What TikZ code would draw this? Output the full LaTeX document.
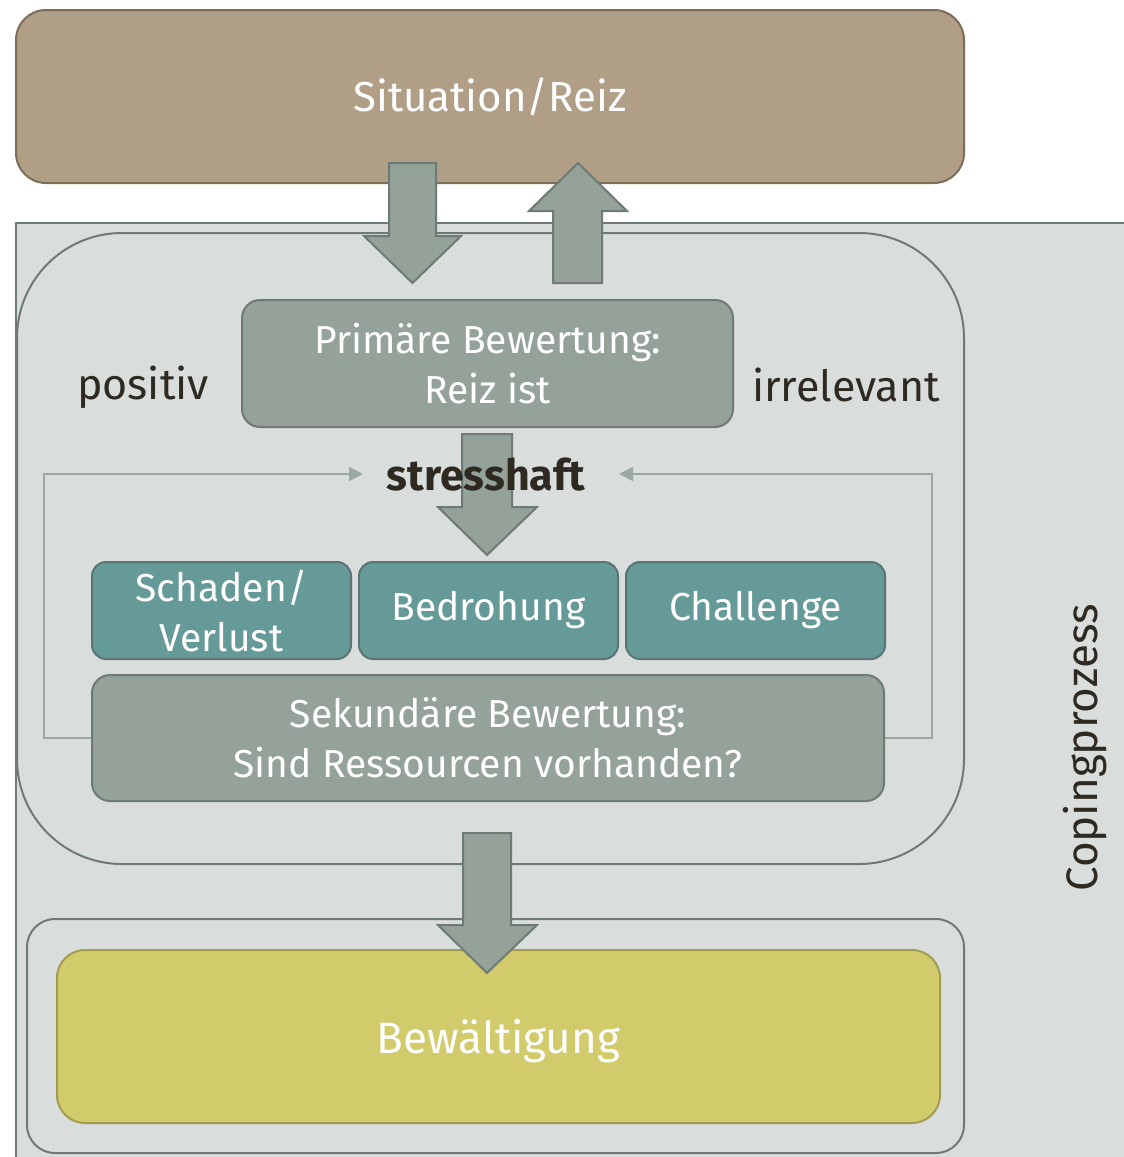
\documentclass[tikz,border=0pt]{standalone}
\usepackage{fontspec}
\setmainfont{Fira Sans}
\usetikzlibrary{arrows.meta}
\definecolor{tanfill}{HTML}{B09E87}
\definecolor{tanline}{HTML}{7E6D58}
\definecolor{bgfill}{HTML}{D9DDDB}
\definecolor{bgline}{HTML}{6E7A75}
\definecolor{grayfill}{HTML}{94A29A}
\definecolor{tealfill}{HTML}{669A99}
\definecolor{tealline}{HTML}{5B7574}
\definecolor{yelfill}{HTML}{D2CB6C}
\definecolor{yelline}{HTML}{A49C50}
\definecolor{darktext}{HTML}{2E2A22}
\definecolor{fbline}{HTML}{9AA8A2}
\tikzset{
  fs/.style={font=\fontsize{#1pt}{50pt}\selectfont},
  graybox/.style={draw=bgline, fill=grayfill, line width=2pt, rounded corners=18pt, text=white, align=center, inner sep=0pt},
  tealbox/.style={draw=tealline, fill=tealfill, line width=2pt, rounded corners=14pt, text=white, align=center, inner sep=0pt, minimum width=259pt, minimum height=97pt},
  blockarrow/.style={draw=bgline, fill=grayfill, line width=2pt, line join=miter},
  region/.style={draw=bgline, fill=bgfill, line width=2pt},
  feedback/.style={draw=fbline, line width=1.6pt, -{Triangle[length=14pt, width=14pt]}},
  label/.style={text=darktext, inner sep=0pt},
}
\begin{document}
\begin{tikzpicture}[x=1pt, y=-1pt]
\useasboundingbox (0,0) rectangle (1124,1157);
\begin{scope}
\clip (0,0) rectangle (1124,1157);
% top box
\node[draw=tanline, fill=tanfill, line width=2pt, rounded corners=30pt, minimum width=948pt, minimum height=173pt, inner sep=0pt, text=white, fs=42] (sit) at (490,96.5) {Situation/Reiz};
% outer rectangle
\draw[region] (16,223) rectangle (1140,1170);
% big region
\draw[region, rounded corners=105pt] (17,233) rectangle (964,864);
% bottom region
\draw[region, rounded corners=28pt] (27,919) rectangle (964,1153);
% Bewaeltigung
\node[draw=yelline, fill=yelfill, line width=2pt, rounded corners=28pt, minimum width=883pt, minimum height=173pt, inner sep=0pt, text=white, fs=44] (bew) at (498.5,1036.5) {};
\node[text=white, inner sep=0pt, fs=44] (bewtext) at (498.5,1041) {Bewältigung};
\end{scope}
% primary appraisal
\node[graybox, minimum width=491pt, minimum height=127pt, fs=39] (prim) at (487.5,363.5) {Primäre Bewertung:\\Reiz ist};
\node[label, fs=43] (pos) at (143,387) {positiv};
\node[label, fs=43] (irr) at (846,385) {irrelevant};
% three teal boxes
\node[tealbox, fs=39] (schaden) at (221.5,610.5) {Schaden/\\Verlust};
\node[tealbox, fs=39] (bedr) at (488.5,610.5) {Bedrohung};
\node[tealbox, fs=39] (chal) at (755.5,610.5) {Challenge};
% secondary appraisal
\node[graybox, minimum width=792pt, minimum height=126pt, fs=39] (sek) at (488,738) {Sekundäre Bewertung:\\Sind Ressourcen vorhanden?};
% block arrows
\draw[blockarrow] (389,163) -- (436,163) -- (436,236) -- (461,236) -- (412.5,283) -- (364,236) -- (389,236) -- cycle;
\draw[blockarrow] (578,163) -- (627,211) -- (602,211) -- (602,283) -- (553,283) -- (553,211) -- (529,211) -- cycle;
\draw[blockarrow] (462,434) -- (512,434) -- (512,507) -- (537,507) -- (487,555) -- (438,507) -- (462,507) -- cycle;
\draw[blockarrow] (463,833) -- (511,833) -- (511,925) -- (537,925) -- (487,973) -- (438,925) -- (463,925) -- cycle;
% stresshaft label
\node[label, font=\bfseries\fontsize{43pt}{50pt}\selectfont] (stress) at (486,475) {stresshaft};
\coordinate (fbL) at (363,474);
\coordinate (fbR) at (619,474);
% feedback connectors
\draw[feedback] (sek.west) -| (44,474) -- (fbL);
\draw[feedback] (sek.east) -| (932,474) -- (fbR);
% Coping label
\node[label, fs=44, rotate=90] (coping) at (1085,748) {Copingprozess};
\end{tikzpicture}
\end{document}
